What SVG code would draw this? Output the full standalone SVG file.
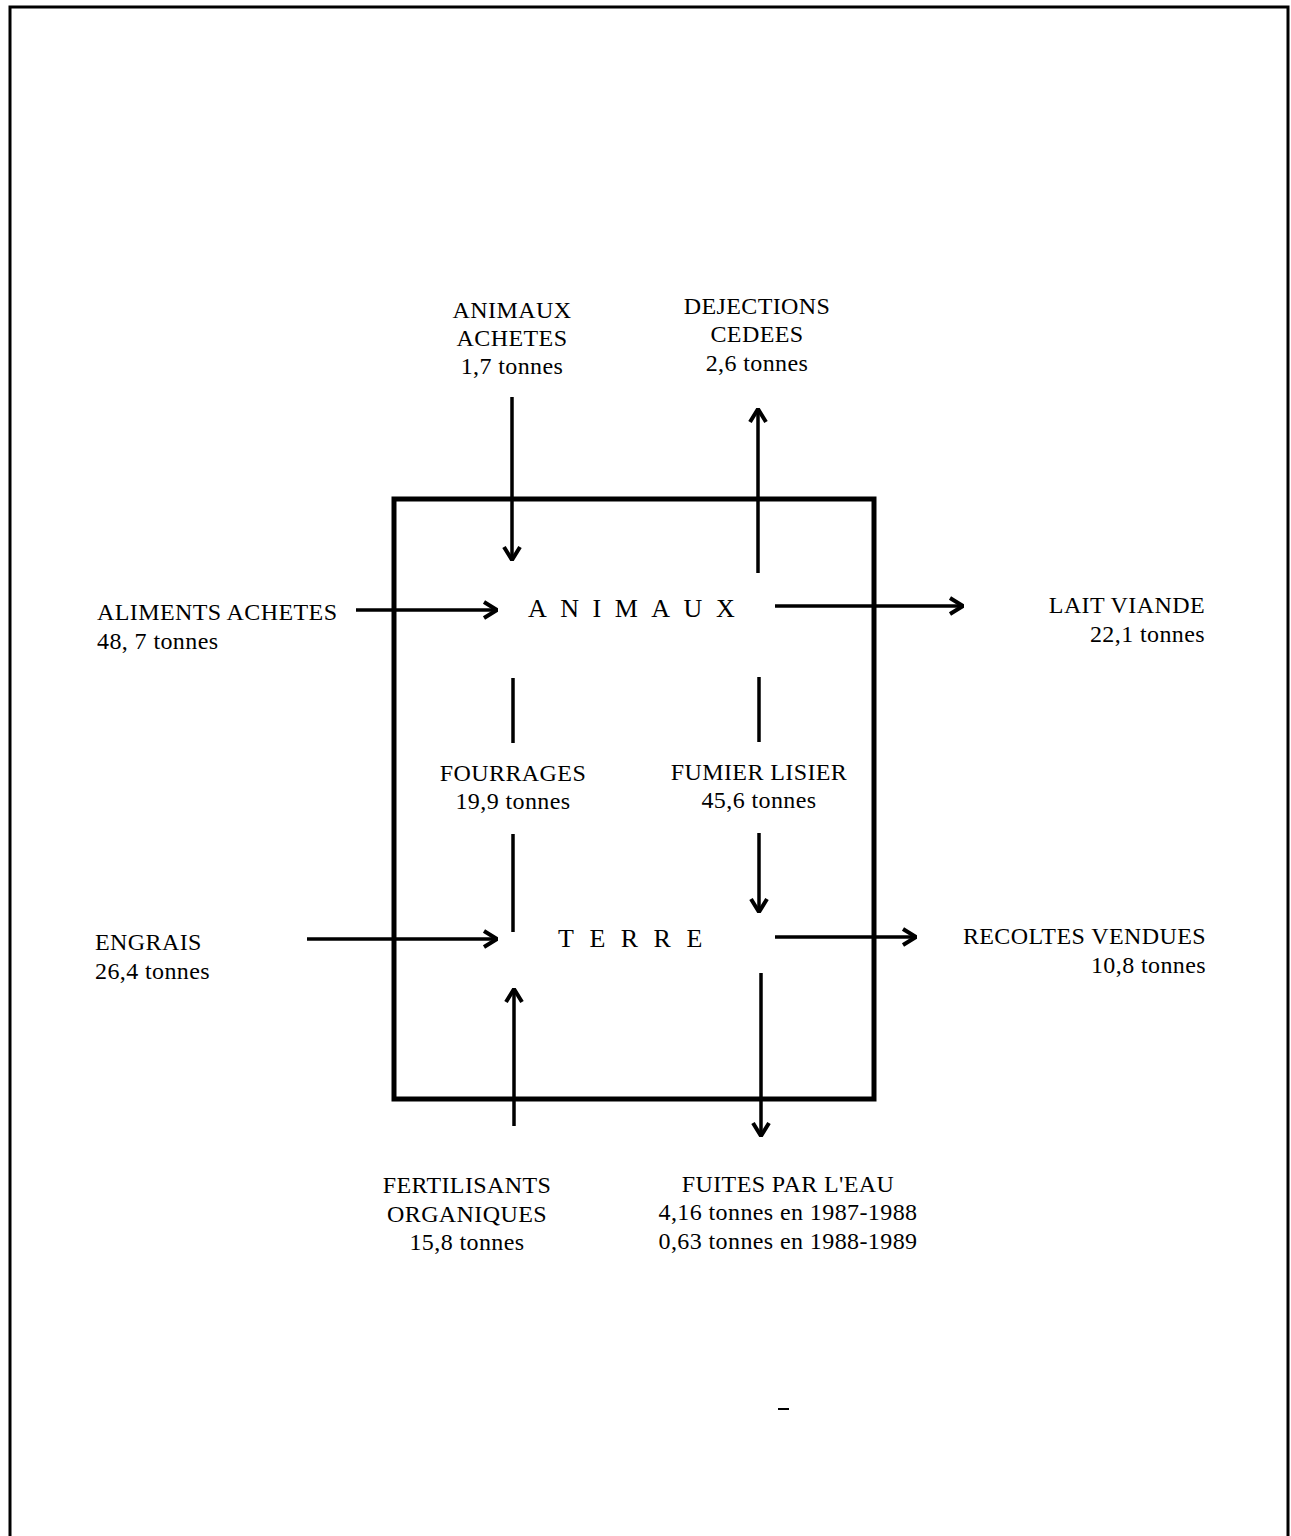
<svg xmlns="http://www.w3.org/2000/svg" width="1291" height="1536" viewBox="0 0 1291 1536">
<style>
.t{font-family:"Liberation Serif","Times New Roman",serif;font-size:24px;fill:#000;letter-spacing:0.4px}
.c{text-anchor:middle}
.r{text-anchor:end}
.big{font-family:"Liberation Serif","Times New Roman",serif;font-size:26px;fill:#000}
.ln{stroke:#000;stroke-width:3.5;fill:none}
</style>
<defs>
<marker id="ah" viewBox="0 0 16 20" refX="15" refY="10" markerWidth="16" markerHeight="20" markerUnits="userSpaceOnUse" orient="auto">
<path d="M2,2 L15,10 L2,18" fill="none" stroke="#000" stroke-width="4"/>
</marker>
</defs>
<rect width="1291" height="1536" fill="#fff"/>
<g id="frame">
<path d="M10,1536 L10,7 L1288,7 L1288,1536" fill="none" stroke="#000" stroke-width="3"/>
</g>
<g id="system-box">
<rect x="394" y="499" width="480" height="600" fill="none" stroke="#000" stroke-width="5"/>
</g>
<g id="connectors">
<line class="ln" x1="512" y1="397" x2="512" y2="560" marker-end="url(#ah)"/>
<line class="ln" x1="758" y1="573" x2="758" y2="409" marker-end="url(#ah)"/>
<line class="ln" x1="356" y1="610" x2="497" y2="610" marker-end="url(#ah)"/>
<line class="ln" x1="775" y1="606" x2="963" y2="606" marker-end="url(#ah)"/>
<line class="ln" x1="513" y1="678" x2="513" y2="743"/>
<line class="ln" x1="513" y1="834" x2="513" y2="932"/>
<line class="ln" x1="759" y1="677" x2="759" y2="742"/>
<line class="ln" x1="759" y1="833" x2="759" y2="912" marker-end="url(#ah)"/>
<line class="ln" x1="307" y1="939" x2="497" y2="939" marker-end="url(#ah)"/>
<line class="ln" x1="775" y1="937" x2="916" y2="937" marker-end="url(#ah)"/>
<line class="ln" x1="514" y1="1126" x2="514" y2="989" marker-end="url(#ah)"/>
<line class="ln" x1="761" y1="973" x2="761" y2="1136" marker-end="url(#ah)"/>
</g>
<g id="animaux">
<text class="big" x="528" y="617" letter-spacing="13.5">ANIMAUX</text>
</g>
<g id="terre">
<text class="big" x="558" y="947" letter-spacing="15.5">TERRE</text>
</g>
<g id="animaux-achetes">
<text class="t c" x="512" y="318">ANIMAUX</text>
<text class="t c" x="512" y="346">ACHETES</text>
<text class="t c" x="512" y="374">1,7 tonnes</text>
</g>
<g id="dejections-cedees">
<text class="t c" x="757" y="314">DEJECTIONS</text>
<text class="t c" x="757" y="342">CEDEES</text>
<text class="t c" x="757" y="371">2,6 tonnes</text>
</g>
<g id="aliments-achetes">
<text class="t" x="97" y="620">ALIMENTS ACHETES</text>
<text class="t" x="97" y="649">48, 7 tonnes</text>
</g>
<g id="lait-viande">
<text class="t r" x="1205" y="613">LAIT VIANDE</text>
<text class="t r" x="1205" y="642">22,1 tonnes</text>
</g>
<g id="fourrages">
<text class="t c" x="513" y="781">FOURRAGES</text>
<text class="t c" x="513" y="809">19,9 tonnes</text>
</g>
<g id="fumier-lisier">
<text class="t c" x="759" y="780">FUMIER LISIER</text>
<text class="t c" x="759" y="808">45,6 tonnes</text>
</g>
<g id="engrais">
<text class="t" x="95" y="950">ENGRAIS</text>
<text class="t" x="95" y="979">26,4 tonnes</text>
</g>
<g id="recoltes-vendues">
<text class="t r" x="1206" y="944">RECOLTES VENDUES</text>
<text class="t r" x="1206" y="973">10,8 tonnes</text>
</g>
<g id="fertilisants-organiques">
<text class="t c" x="467" y="1193">FERTILISANTS</text>
<text class="t c" x="467" y="1222">ORGANIQUES</text>
<text class="t c" x="467" y="1250">15,8 tonnes</text>
</g>
<g id="fuites-par-eau">
<text class="t c" x="788" y="1192">FUITES PAR L'EAU</text>
<text class="t c" x="788" y="1220">4,16 tonnes en 1987-1988</text>
<text class="t c" x="788" y="1249">0,63 tonnes en 1988-1989</text>
</g>
<line x1="778" y1="1409" x2="789" y2="1409" stroke="#000" stroke-width="2"/>
</svg>
